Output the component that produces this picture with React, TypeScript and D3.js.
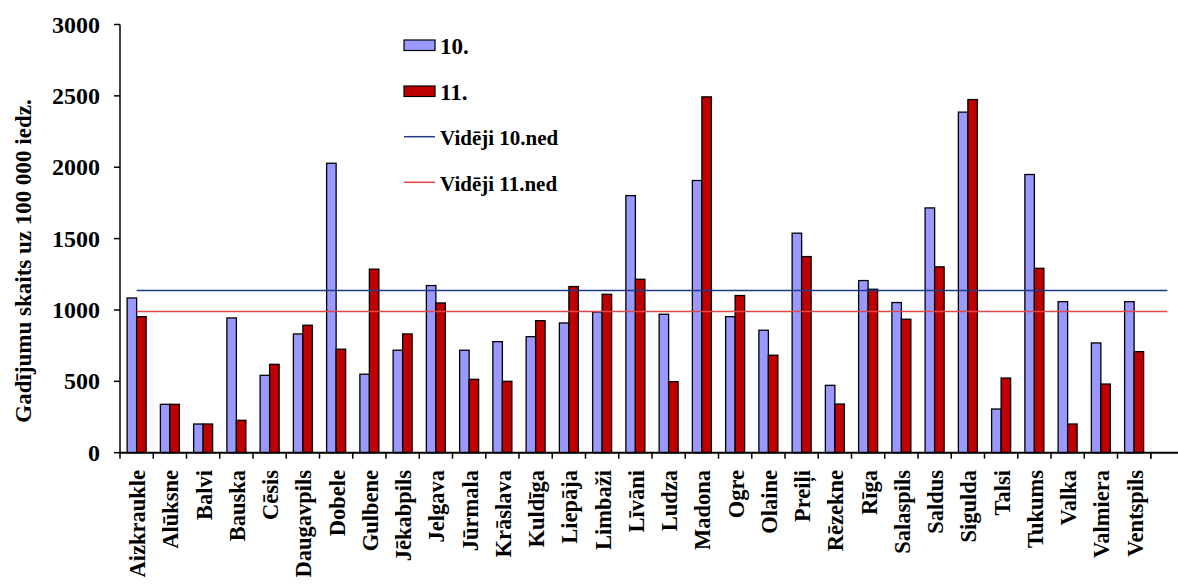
import React from "react";
import * as d3 from "d3";

const categories = [
  "Aizkraukle", "Alūksne", "Balvi", "Bauska", "Cēsis", "Daugavpils", "Dobele", "Gulbene",
  "Jēkabpils", "Jelgava", "Jūrmala", "Krāslava", "Kuldīga", "Liepāja", "Limbaži", "Līvāni",
  "Ludza", "Madona", "Ogre", "Olaine", "Preiļi", "Rēzekne", "Rīga", "Salaspils", "Saldus",
  "Sigulda", "Talsi", "Tukums", "Valka", "Valmiera", "Ventspils",
];
const week10 = [1084, 339, 201, 944, 542, 832, 2028, 550, 718, 1171, 718, 778, 813, 909, 986, 1801, 970, 1907, 953, 858, 1538, 472, 1206, 1052, 1715, 2386, 306, 1949, 1058, 769, 1058];
const week11 = [953, 339, 201, 227, 619, 893, 725, 1286, 832, 1049, 514, 500, 925, 1164, 1110, 1215, 498, 2493, 1101, 683, 1374, 341, 1145, 935, 1302, 2474, 523, 1292, 201, 481, 708];
const avg10 = 1136;
const avg11 = 989;
const yTicks = [0, 500, 1000, 1500, 2000, 2500, 3000];
const seriesNames = ["10.", "11."];
const lineNames = ["Vidēji 10.ned", "Vidēji 11.ned"];

const W = 1178, H = 585;
const left = 120, top = 24.5, bottom = 452.7;
const bandW = 33.25;
const FONT = "'Liberation Serif', 'Times New Roman', serif";

export default function App() {
  const domain = [...categories, ""];
  const x = d3.scaleBand<string>().domain(domain).range([left, left + bandW * domain.length]).paddingInner(0).paddingOuter(0);
  const inner = d3.scaleBand<string>().domain(seriesNames).range([0, x.bandwidth()]).paddingInner(0).paddingOuter(0.75);
  const y = d3.scaleLinear().domain([0, 3000]).range([bottom, top]);
  const colors = ["#9999FF", "#C00000"];
  const series = [week10, week11];
  const lineColors = ["#1F3B86", "#E04848"];
  const x0 = (x(categories[0]) as number) + x.bandwidth() / 2;
  const x1 = (x("") as number) + x.bandwidth() / 2;

  return (
    <svg width={W} height={H} style={{ position: "absolute", left: 0, top: 0, background: "#fff" }} fontFamily={FONT} fontWeight="bold">
      {categories.map((c, i) => (
        <g key={c}>
          {series.map((s, k) => {
            const bx = (x(c) as number) + (inner(seriesNames[k]) as number);
            return (
              <rect key={k} x={bx} y={y(s[i])} width={inner.bandwidth()} height={bottom - y(s[i])}
                fill={colors[k]} stroke="#000" strokeWidth={1.3} />
            );
          })}
        </g>
      ))}
      <line x1={x0} x2={x1} y1={y(avg10)} y2={y(avg10)} stroke={lineColors[0]} strokeWidth={1.5} />
      <line x1={x0} x2={x1} y1={y(avg11)} y2={y(avg11)} stroke={lineColors[1]} strokeWidth={1.5} />
      <line x1={left} x2={left} y1={top} y2={bottom} stroke="#000" strokeWidth={1.5} />
      {yTicks.map((t) => (
        <g key={t}>
          <line x1={left - 6} x2={left} y1={y(t)} y2={y(t)} stroke="#000" strokeWidth={1.5} />
          <text x={100} y={y(t)} dy="0.34em" textAnchor="end" fontSize={24}>{t}</text>
        </g>
      ))}
      <line x1={left} x2={W} y1={bottom} y2={bottom} stroke="#000" strokeWidth={2} />
      {domain.map((c) => (
        <line key={"t" + c} x1={x(c) as number} x2={x(c) as number} y1={bottom} y2={bottom + 6} stroke="#000" strokeWidth={1.5} />
      ))}
      <line x1={left + bandW * categories.length} x2={left + bandW * categories.length} y1={bottom} y2={bottom + 6} stroke="#000" strokeWidth={1.5} />
      {categories.map((c) => (
        <text key={"l" + c} transform={`translate(${(x(c) as number) + x.bandwidth() / 2 + 8.5},470) rotate(-90)`}
          textAnchor="end" fontSize={22.5}>{c}</text>
      ))}
      <text transform={`translate(31,261) rotate(-90)`} textAnchor="middle" fontSize={23}>Gadījumu skaits uz 100 000 iedz.</text>
      <g>
        <rect x={404} y={40} width={31} height={10.5} fill={colors[0]} stroke="#000" strokeWidth={1.2} />
        <text x={440} y={53.5} fontSize={23}>{seriesNames[0]}</text>
        <rect x={404} y={86} width={31} height={10.5} fill={colors[1]} stroke="#000" strokeWidth={1.2} />
        <text x={440} y={99.5} fontSize={23}>{seriesNames[1]}</text>
        <line x1={404} x2={435} y1={136.7} y2={136.7} stroke={lineColors[0]} strokeWidth={1.5} />
        <text x={440} y={144.5} fontSize={21}>{lineNames[0]}</text>
        <line x1={404} x2={435} y1={182.3} y2={182.3} stroke={lineColors[1]} strokeWidth={1.5} />
        <text x={440} y={190.5} fontSize={21}>{lineNames[1]}</text>
      </g>
    </svg>
  );
}
